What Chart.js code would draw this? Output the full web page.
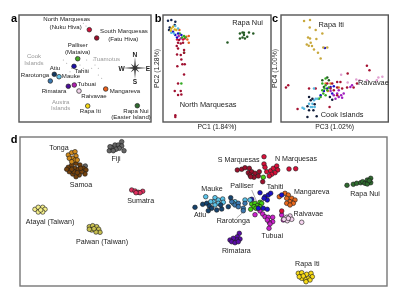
<!DOCTYPE html>
<html><head><meta charset="utf-8">
<style>html,body{margin:0;padding:0;background:#fff;width:400px;height:300px;overflow:hidden}canvas{position:absolute;left:0;top:0}</style>
<script src="https://cdn.jsdelivr.net/npm/chart.js@4/dist/chart.umd.min.js"></script>
</head><body>
<canvas id="a" width="400" height="300"></canvas>
<canvas id="b" width="400" height="300"></canvas>
<canvas id="c" width="400" height="300"></canvas>
<canvas id="d" width="400" height="300"></canvas>
<script>
// ---- panel a: sampling map
const aIslands=[[64.3,98.7],[67,96],[44.3,62],[47.7,58.7],[52.7,53.7],[61,57],[64.3,53.7],[68.3,50.3],[72.7,53.7],[76,57],[79.3,53.7],[79.3,47],[82.7,43.7],[74.3,62],[67.7,62],[51,50.3],[59.3,65.3]];
const aSites=[[70.3,92.3],[77.7,84],[58.7,63.3],[55,55.7],[35.3,47.7],[40,45.3],[31.3,41],[55.3,37],[49.3,35.7],[60,31],[86.7,33],[68.7,16],[118.3,16.3]];
const aSiteColors=['#d0103a','#9b0f2b','#44aa22','#1a10a8','#12375f','#66c4e8','#3a78b0','#b020b0','#4a0e98','#f3d6ec','#e8601c','#f5d816','#2f6b2f'];
const aLabels=[['North Marquesas',47.7,102.3],['(Nuku Hiva)',46.7,94.7],['South Marquesas',105,90.7],['(Fatu Hiva)',104.3,83],['Palliser',58.7,77],['(Mataiva)',58.7,69.3],['Atiu',36,54],['Tahiti',62.7,50.7],['Rarotonga',16,46.7],['Mauke',52,45.7],['Tubuai',67.7,37.3],['Rimatara',35,31],['Mangareva',106,30.7],['Raivavae',75,26],['Rapa Iti',71.3,10.3],['Rapa Nui',117,10.3],['(Easter Island)',112,4.3]];
const aGreyLabels=[['Cook',15,65.3],['Islands',15,58.7],['Tuamotus',87.7,62.7],['Austra',41.7,20],['Islands',41.7,13.3]];
const aCompass=[['N',116,67],['S',116,39.5],['W',102.7,53],['E',129,53]];
// ---- panel b: PC1 / PC2
const bMarq=[[12.3,6.7],[12.3,5],[11.7,31],[17.7,31],[15,27],[18.3,27.3],[15,38.3],[21,47.3],[14.3,55.7],[19.3,57.7],[21.7,57.7],[18.3,62.3],[21,69],[21,71.7],[17.7,66.7],[14,67.3],[15,73.3],[17.7,78.3],[15,79],[13.7,75.7],[16,81.7],[20,79]];
const bRapaNui=[[76.7,88.3],[79.3,89.3],[80.7,86.7],[76.7,83.3],[79.3,84.3],[81.7,83.3],[84,85],[85.7,89.3],[90,88.3],[80.7,89],[64.3,79.3]];
const bNavy=[[5,101],[8.3,101.7],[12.3,100],[6.7,94.3],[6,91.7],[11.7,96.7]];
const bBlue=[[10,90],[12.3,86.7],[15,88.3],[18.3,86.7],[14,84.3]];
const bGold=[[8.3,93.3],[10,95],[13.3,91.7],[7.7,91],[11.7,92.3]];
const bLightBlue=[[12.3,95.7],[8.3,89],[15,93.3],[11,88.3]];
const bGreen=[[16.7,88.3],[19,84.3],[21,85.7],[22.3,84.3],[18.3,38.3],[21,69]];
const bOrange=[[23.3,85],[25.7,85.7],[24.3,82.3],[25.7,79],[16.3,91.7]];
const bMagenta=[[15.7,85.7],[17.7,83.3]];
const bRed=[[20,82.3],[21.7,83.3],[14,82.3]];
const bLabels=[['Rapa Nui',84.3,99],['North Marquesas',45,17.3]];
// ---- panel c: PC3 / PC4
const cRapaIti=[[23.3,100.7],[29.3,101.7],[29,94.3],[41.7,88.3],[35,91.7],[27.3,84.3],[29.3,83.3],[35.7,82.7],[26,77.3],[30,79],[31.3,75.7],[28,76],[33.3,72.3],[37.3,69],[46.7,74.3],[42.7,74.3],[40,63.3]];
const cNavy=[[26.7,5],[36,5.7],[28.3,11.7],[32.7,11.7],[34,17.7],[26.7,15.7],[30,21.7],[28.3,25],[31.7,23.3],[51.7,22.3],[49.3,25]];
const cLightBlue=[[21.7,14.3],[28.3,18.3],[31.7,18.3],[33.3,21.7],[35,23.3],[30,15],[33.3,33.3],[34,15],[36.7,23.3],[31.7,15],[23.3,13.3]];
const cRed=[[5,34.3],[7.3,36.7],[16.7,13],[28.3,33.3],[49,15],[86.7,56],[89.3,51.7],[67.3,48.3],[56.7,40],[60,40],[51.7,38.3],[46.7,38.3],[50,33.3],[56.7,34.3],[61.7,33.3],[66.7,34.3],[73.3,34.3],[76.7,38.3],[56.7,26.7],[53.3,31.7],[35,33.3]];
const cPink=[[60.7,47],[67.3,39.3],[76,42.3],[79.3,41.7],[98.3,44.3],[102.3,45],[96.7,41.7],[86.7,41.7]];
const cMagenta=[[55,23.3],[58.3,25],[60.7,26.7],[56.7,28.3],[53.3,26.7],[50,31],[58.3,31.7],[63.3,28.3],[61.7,24.3],[70,35],[71.7,36.7]];
const cGreen=[[38.3,23.3],[40,25],[41.7,31.7],[44,33.3],[46.7,31.7],[42.7,28.3],[45,43.3],[41.7,38.3],[48.3,34.3],[45,26.7],[45,36.7]];
const cDarkGreen=[[41.7,41.7],[46.7,44.3],[48.3,41.7],[43.3,35]];
const cBlue=[[46.7,33.3],[50,35],[43.3,31],[40,26.7],[53.3,35.7],[51.7,28.3],[44.3,73.7]];
const cOrange=[[45,38.3],[58.3,34.3],[50,38.3],[47.3,31]];
const cLabels=[['Rapa Iti',50.7,96.7],['Raivavae',93.3,39.3],['Cook Islands',61.7,7]];
// ---- panel d: Polynesia and reference populations
const dTonga=[[48.3,131],[51.7,133.3],[55,134.3],[56,130],[52.7,127.7],[49.3,127.7],[55,126],[51.7,124.3],[57.3,126]];
const dSamoa=[[48.3,118.7],[51.7,121],[56,122.7],[60,121],[63.3,117.7],[66,116],[65,112],[61.7,114.3],[59.3,111],[56,109.3],[52.7,112],[49.3,114.3],[46.7,116.7],[55,117.7],[58.3,116.7],[54,114.3],[57.3,113.3],[51.7,116.7],[60.7,117.7]];
const dFiji=[[89.3,135.3],[91.7,138.7],[95,141],[98.3,141],[101.7,144.3],[101.7,140],[99.3,137.7],[96,136.7],[104,135.3],[93.3,135.3],[90,139.3],[65.3,120]];
const dSumatra=[[111.7,96],[115,95],[118.3,93.7],[122.7,94.7],[120,93.3],[116,93.3]];
const dAtayal=[[15,76.7],[18.3,78.7],[22.7,78.7],[25,76.7],[22.7,74],[18.3,74],[20.7,76]];
const dPaiwan=[[69.3,59.3],[72.7,60.3],[76.7,59.3],[78.7,56.7],[80,53.7],[76,54],[71.7,56],[74,57.3],[69.3,56.7]];
const dSMarq=[[217.3,116],[221.7,116.7],[225,118.3],[229.3,117.7],[228.3,113.3],[231.7,114.3],[230,111],[235,112.7],[239.3,114.3],[234,108.7],[230.7,109.3],[238.3,110],[242.7,104.3]];
const dNMarq=[[244,129.3],[244,122],[245,118.7],[246.7,114.3],[250.7,115.3],[253.3,117.7],[256.7,120],[257.7,116],[255,113.3],[251.7,111.7],[249.3,110],[269,117],[275.7,117.3],[261.7,75]];
const dAtiu=[[175,78.7],[182.7,81.7],[186.7,82.7],[189.3,80],[191.7,77.7],[196.7,76],[201.7,77],[188.3,75.3],[200.7,81],[208.3,79.3],[210.7,88.3]];
const dRarotonga=[[215,81],[218.3,82.7],[223.3,77.7],[223.3,75.3],[225,82.7],[218.3,79.3],[211.7,84.3]];
const dMauke=[[185.7,89.3],[195,88.3],[202.7,87],[198.3,86],[193.3,84.3],[198.3,82.7],[203.3,83.7],[215,84.3],[213.3,82.7],[225,86],[230,86],[195,81],[190.7,84.3]];
const dTahiti=[[240,93.3],[245,89.3],[248.3,91],[250.7,92.7],[247.3,86],[244,87.7],[231.7,86.7],[243.3,77.7],[247.3,76.7],[238.3,77.7],[261.7,91]];
const dPalliser=[[243.3,108.7],[231.7,82],[235,82.7],[240,83.7],[241.7,82.7],[237.3,80.3],[234,79.3],[230.7,76.7],[240,79.3],[236,77.7]];
const dMangareva=[[259.3,89.3],[265,92.7],[268.3,91],[271.7,87.7],[275,86],[266.7,87.7],[270,84.3],[273.3,82.7],[266.7,82.7],[270,81]];
const dRaivavae=[[281.7,63.7],[270,70],[271.7,66.7],[266.7,68.7],[267.3,65.3],[268.3,67.7],[264,66.7]];
const dTubuai=[[235,71.3],[240,75],[242.7,72],[245,69.3],[248.3,68.7],[252.7,68.7],[252.7,64.3],[249.3,63.7],[247.3,66],[250,62],[249,57.7],[261.7,71],[263.3,66]];
const dRimatara=[[219.3,52.7],[217.3,49.3],[220,47],[216.7,46],[213.3,47.7],[210,46],[211.7,44.3],[215,43.3],[218.3,44.3]];
const dRapaIti=[[278.3,12.7],[281.7,13.3],[286.7,11.7],[291,12.7],[292.3,9.3],[288.3,7.7],[285,6.7],[281.7,7.7],[279.3,9.3],[290,6],[286,4.3],[283.3,10]];
const dRapaNui=[[327,100.7],[333.3,101.7],[336.7,102.7],[340.7,103.3],[342.7,104.3],[345,102.7],[347.3,106],[350.7,107.7],[350.7,103.3],[347.3,102],[349.3,105.3]];
const dLabels=[['Tonga',39,137.7],['Fiji',96,127],['Samoa',61,101.3],['Sumatra',120.7,84.7],['Atayal (Taiwan)',30,63.7],['Paiwan (Taiwan)',82,44.3],['S Marquesas',218.7,125.7],['N Marquesas',276,127.3],['Mauke',192,97],['Palliser',222,100.3],['Tahiti',255,99],['Mangareva',291.7,93.7],['Rapa Nui',345,92],['Atiu',180,70.7],['Rarotonga',213.3,64.7],['Raivavae',288.3,71.7],['Tubuai',252.3,50],['Rimatara',216.3,35.3],['Rapa Iti',287.3,21.7]];
const dLeaders=[[[231.7,96],[236.7,84.5]],[[216.7,68],[223.3,74]]];

const FONT='"Liberation Sans", Arial, sans-serif';
const INK='#1c1c1c';
function set(data,color,r,border,bw){
  return {data:data.map(p=>({x:p[0],y:p[1]})),backgroundColor:color,borderColor:border||color,borderWidth:bw===undefined?0:bw,pointRadius:r,pointHoverRadius:r,showLine:false,clip:false};
}
function deco(o){
  return {id:'deco'+o.letter,
    beforeDatasetsDraw(ch){
      const c=ch.ctx,A=ch.chartArea;
      c.save();c.strokeStyle=o.frame||'#555';c.lineWidth=1.4;
      c.strokeRect(A.left,A.top,A.right-A.left,A.bottom-A.top);c.restore();
    },
    afterDatasetsDraw(ch){
      const c=ch.ctx,X=ch.scales.x,Y=ch.scales.y;
      c.save();c.textAlign='center';c.textBaseline='middle';
      c.font='bold 11px '+FONT;c.fillStyle='#000';c.fillText(o.letter,o.letterAt[0],o.letterAt[1]);
      if(o.compass){
        const cx=X.getPixelForValue(o.compass[0]),cy=Y.getPixelForValue(o.compass[1]);
        c.fillStyle='#333';
        for(let i=0;i<8;i++){
          const t=i*Math.PI/4,L=i%2?6:(i%4===0?12:11);
          c.beginPath();
          c.moveTo(cx+Math.cos(t)*L,cy+Math.sin(t)*L);
          c.lineTo(cx+Math.cos(t+1.57)*1,cy+Math.sin(t+1.57)*1);
          c.lineTo(cx-Math.cos(t+1.57)*1,cy-Math.sin(t+1.57)*1);
          c.closePath();c.fill();
        }
      }
      (o.leaders||[]).forEach(l=>{
        c.strokeStyle='#555';c.lineWidth=0.5;c.beginPath();
        c.moveTo(X.getPixelForValue(l[0][0]),Y.getPixelForValue(l[0][1]));
        c.lineTo(X.getPixelForValue(l[1][0]),Y.getPixelForValue(l[1][1]));c.stroke();
      });
      (o.groups||[]).forEach(g=>{
        c.font=g.font+' '+FONT;c.fillStyle=g.color;
        g.items.forEach(t=>c.fillText(t[0],X.getPixelForValue(t[1]),Y.getPixelForValue(t[2])));
      });
      c.restore();
    }};
}
function scale(max,title,pad){
  const s={type:'linear',min:0,max:max,display:!!title,grid:{display:false,drawBorder:false},border:{display:false},ticks:{display:false}};
  if(title){s.title={display:true,text:title,color:INK,font:{family:FONT,size:6.8},padding:pad};}
  return s;
}
function make(id,datasets,xMax,yMax,pad,xT,yT,o){
  const xs=scale(xMax,xT,{top:0,bottom:1.5}),ys=scale(yMax,yT,{top:2.5,bottom:0});
  if(xT)xs.afterFit=s=>{s.height=11};
  if(yT)ys.afterFit=s=>{s.width=12};
  return new Chart(document.getElementById(id),{type:'scatter',data:{datasets},
    options:{responsive:false,animation:false,devicePixelRatio:1,layout:{padding:pad},
      plugins:{legend:{display:false},tooltip:{enabled:false},title:{display:false}},
      scales:{x:xs,y:ys}},plugins:[deco(o)]});
}
make('a',[set(aIslands,'#9a9a9a',0.5),{...set(aSites,aSiteColors,2.3,'#222',0.7)}],132,107,
 {left:19,top:15,right:249,bottom:178},null,null,
 {letter:'a',letterAt:[14,19],compass:[116,54],groups:[
  {font:'6.1px',color:INK,items:aLabels},{font:'6.1px',color:'#999',items:aGreyLabels},{font:'bold 6.6px',color:INK,items:aCompass}]});
const bSize=1.25;
make('b',[set(bMarq,'#a01030',bSize),set(bRapaNui,'#245a24',bSize),set(bGold,'#d8b020',bSize),set(bLightBlue,'#55b8e0',bSize),set(bBlue,'#1a10c8',bSize),set(bNavy,'#12254f',bSize),set(bGreen,'#33aa22',bSize),set(bOrange,'#e8601c',bSize),set(bMagenta,'#b020b0',bSize),set(bRed,'#d0103a',bSize)],107.7,106.7,
 {left:151,top:15,right:129,bottom:167},'PC1 (1.84%)','PC2 (1.28%)',
 {letter:'b',letterAt:[158,19],groups:[{font:'7.4px',color:INK,items:bLabels}]});
make('c',[set(cRapaIti,'#c8a83c',bSize),set(cNavy,'#101c38',bSize),set(cLightBlue,'#55b8e0',bSize),set(cRed,'#a51030',bSize),set(cPink,'#e0a0d0',bSize),set(cMagenta,'#a020c0',bSize),set(cGreen,'#33aa22',bSize),set(cDarkGreen,'#245a24',bSize),set(cBlue,'#1a10c8',bSize),set(cOrange,'#e8801c',bSize)],108.3,106.7,
 {left:269,top:15,right:11.7,bottom:167},'PC3 (1.02%)','PC4 (1.00%)',
 {letter:'c',letterAt:[275,19],groups:[{font:'7.4px',color:INK,items:cLabels}]});
const dR=2.3,edge='#1a1a1a',ew=0.6;
const dSet=(a,col)=>set(a,col,dR,edge,ew);
make('d',[dSet(dTonga,'#d08a1c'),dSet(dSamoa,'#75420c'),dSet(dFiji,'#666666'),dSet(dSumatra,'#e0305f'),dSet(dAtayal,'#f5ef8a'),dSet(dPaiwan,'#c8c050'),dSet(dSMarq,'#9b0f2b'),dSet(dNMarq,'#d8103a'),dSet(dAtiu,'#15436e'),dSet(dRarotonga,'#3a78b0'),dSet(dMauke,'#5cc4ea'),dSet(dTahiti,'#1a10c8'),dSet(dPalliser,'#44cc11'),dSet(dMangareva,'#e8681c'),dSet(dRaivavae,'#f5d3ef'),dSet(dTubuai,'#cc22cc'),dSet(dRimatara,'#5a0ea8'),dSet(dRapaIti,'#f7da16'),dSet(dRapaNui,'#2f6b2f')],367,149,
 {left:20,top:137,right:13,bottom:14},null,null,
 {letter:'d',letterAt:[14,140],frame:'#777',leaders:dLeaders,groups:[{font:'7.1px',color:INK,items:dLabels}]});
</script>
</body></html>
